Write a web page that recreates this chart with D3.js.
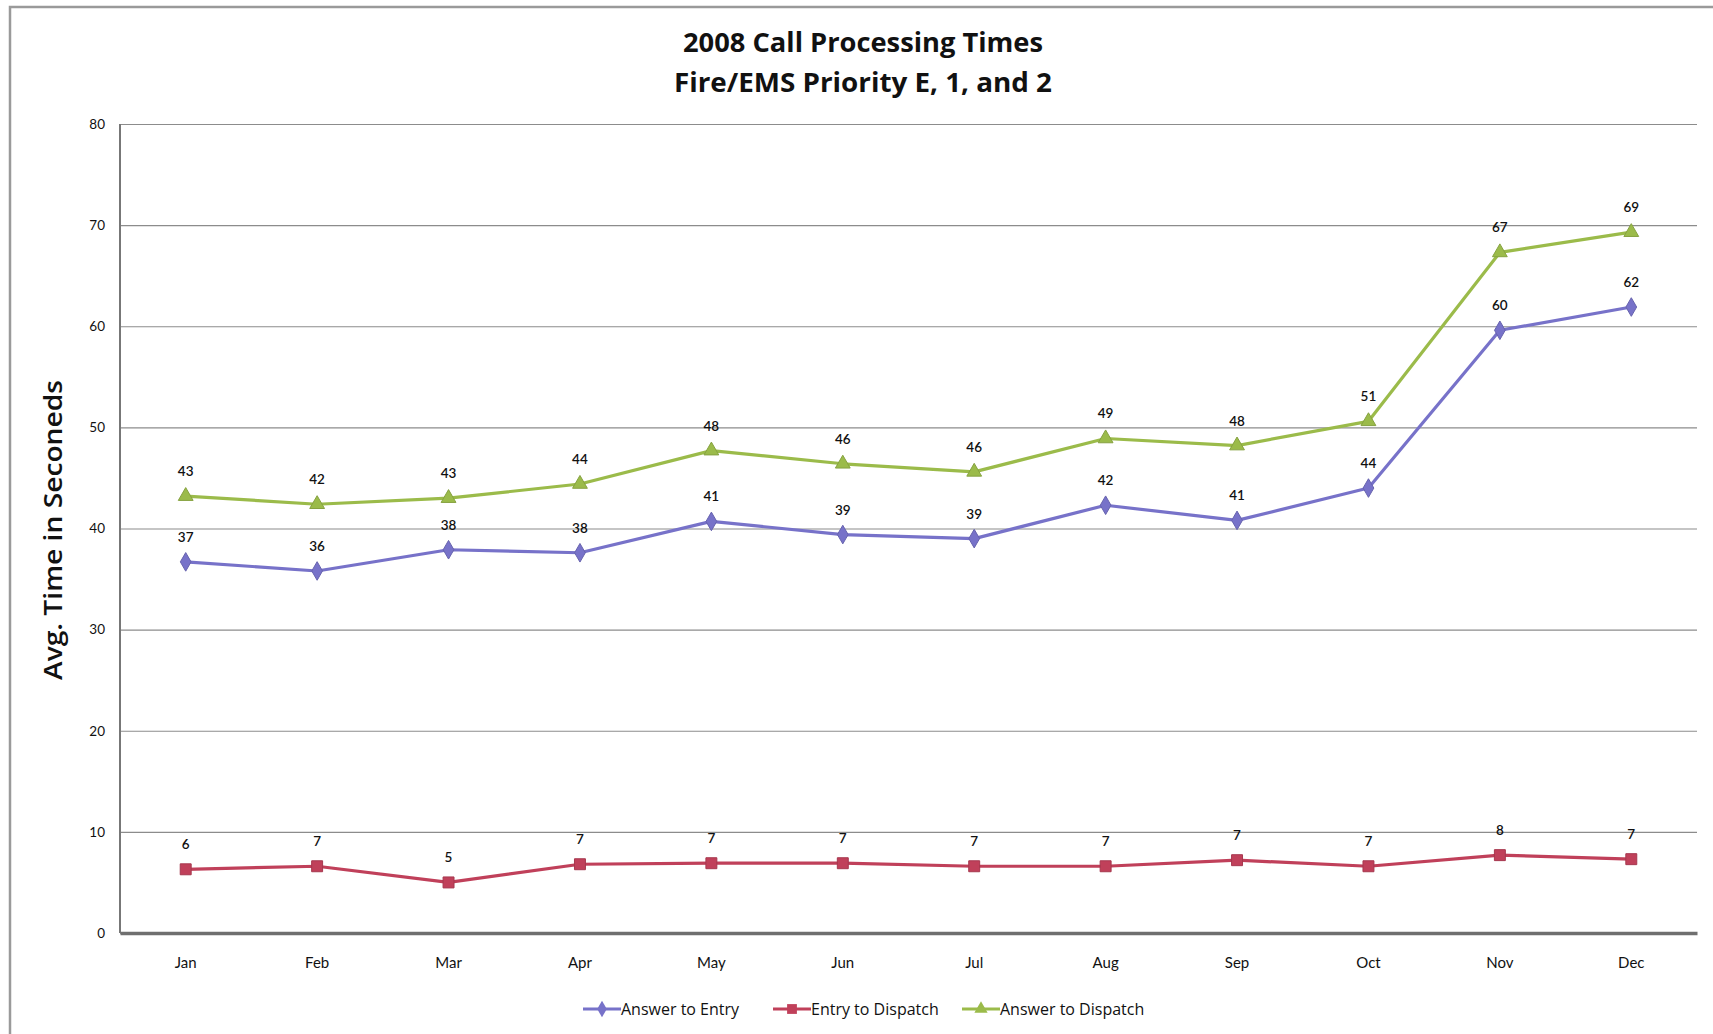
<!DOCTYPE html>
<html>
<head>
<meta charset="utf-8">
<script src="https://cdn.jsdelivr.net/npm/d3@7"></script>
<style>
  html, body { margin: 0; padding: 0; background: #ffffff; }
  svg { display: block; }
  text { font-family: Lato, "Open Sans", sans-serif; fill: #111; }
</style>
</head>
<body>
<svg id="chart" width="1713" height="1034"></svg>
<script>
// Months on the category axis
const months = ["Jan", "Feb", "Mar", "Apr", "May", "Jun", "Jul", "Aug", "Sep", "Oct", "Nov", "Dec"];

// Average times in seconds for each stage of call processing
const answerToEntry    = [36.7, 35.8, 37.9, 37.6, 40.7, 39.4, 39.0, 42.3, 40.8, 44.0, 59.6, 61.9];
const entryToDispatch  = [6.3, 6.6, 5.0, 6.8, 6.9, 6.9, 6.6, 6.6, 7.2, 6.6, 7.7, 7.3];
const answerToDispatch = [43.2, 42.4, 43.0, 44.4, 47.7, 46.4, 45.6, 48.9, 48.2, 50.6, 67.3, 69.3];

// Value axis ticks
const yTicks = [0, 10, 20, 30, 40, 50, 60, 70, 80];

const seriesNames  = ["Answer to Entry", "Entry to Dispatch", "Answer to Dispatch"];
const seriesValues = [answerToEntry, entryToDispatch, answerToDispatch];
const seriesColors = ["#7772c9", "#c0405a", "#9bbb4a"];
const seriesShapes = [d3.symbolDiamond, d3.symbolSquare, d3.symbolTriangle];
const seriesMarkerSize = [100, 120, 95];

const svg = d3.select("#chart");
const plot = { left: 120, right: 1697, top: 124, bottom: 933 };

// Outer chart frame
svg.append("rect")
  .attr("x", 10).attr("y", 7)
  .attr("width", 1720).attr("height", 1040)
  .attr("fill", "#fff")
  .attr("stroke", "#9a9a9a").attr("stroke-width", 2.5);

const x = d3.scaleBand().domain(months).range([plot.left, plot.right]);
const y = d3.scaleLinear().domain([0, 80]).range([plot.bottom, plot.top]);
const cx = m => x(m) + x.bandwidth() / 2;

// Horizontal gridlines
const yAxis = d3.axisLeft(y).tickValues(yTicks).tickSize(-(plot.right - plot.left)).tickPadding(15);
const gy = svg.append("g").attr("transform", `translate(${plot.left},0)`).call(yAxis);
gy.select(".domain").remove();
gy.selectAll(".tick line").attr("stroke", "#8c8c8c").attr("stroke-width", 1.2);
gy.selectAll(".tick text")
  .attr("font-size", 13.5).attr("fill", "#222")
  .style("font-family", "Lato, sans-serif");

// Vertical value axis line
svg.append("line")
  .attr("x1", plot.left).attr("x2", plot.left)
  .attr("y1", plot.top).attr("y2", plot.bottom)
  .attr("stroke", "#777").attr("stroke-width", 2);

// Category axis
const xAxis = d3.axisBottom(x).tickSize(0).tickPadding(24);
const gx = svg.append("g").attr("transform", `translate(0,${plot.bottom})`).call(xAxis);
gx.select(".domain").attr("stroke", "#6f6f6f").attr("stroke-width", 3.5);
gx.selectAll(".tick text")
  .attr("font-size", 15).attr("fill", "#222")
  .style("font-family", "Lato, sans-serif");

// Series lines, markers and value labels
const line = d3.line().x((d, i) => cx(months[i])).y(d => y(d));

seriesValues.forEach((vals, s) => {
  const g = svg.append("g");
  g.append("path")
    .datum(vals)
    .attr("d", line)
    .attr("fill", "none")
    .attr("stroke", seriesColors[s])
    .attr("stroke-width", 3.2)
    .attr("stroke-linejoin", "round");

  g.selectAll("path.marker")
    .data(vals)
    .join("path")
    .attr("class", "marker")
    .attr("d", d3.symbol().type(seriesShapes[s]).size(seriesMarkerSize[s]))
    .attr("transform", (d, i) => `translate(${cx(months[i])},${y(d)})`)
    .attr("fill", seriesColors[s])
    .attr("stroke", d3.color(seriesColors[s]).darker(0.4))
    .attr("stroke-width", 1);

  g.selectAll("text.lbl")
    .data(vals)
    .join("text")
    .attr("class", "lbl")
    .attr("x", (d, i) => cx(months[i]))
    .attr("y", d => y(d) - 20)
    .attr("text-anchor", "middle")
    .attr("font-size", 13.5)
    .attr("font-weight", 600)
    .text(d => d3.format(".0f")(d));
});

// Title
const title = svg.append("text")
  .attr("x", 863).attr("text-anchor", "middle")
  .style("font-family", "'Open Sans', sans-serif")
  .attr("font-size", 26).attr("font-weight", 700);
title.append("tspan").attr("x", 863).attr("y", 52)
  .attr("textLength", 360).attr("lengthAdjust", "spacingAndGlyphs")
  .text("2008 Call Processing Times");
title.append("tspan").attr("x", 863).attr("y", 92)
  .attr("textLength", 378).attr("lengthAdjust", "spacingAndGlyphs")
  .text("Fire/EMS Priority E, 1, and 2");

// Value axis title
svg.append("text")
  .attr("transform", "translate(62,530) rotate(-90)")
  .attr("text-anchor", "middle")
  .style("font-family", "'Open Sans', sans-serif")
  .attr("font-size", 25.5).attr("font-weight", 600)
  .attr("textLength", 300).attr("lengthAdjust", "spacingAndGlyphs")
  .text("Avg. Time in Seconeds");

// Legend
const legendX = [583, 773, 962];
const legend = svg.append("g").attr("transform", "translate(0,1009)");
seriesNames.forEach((name, s) => {
  const lg = legend.append("g").attr("transform", `translate(${legendX[s]},0)`);
  lg.append("line")
    .attr("x1", 0).attr("x2", 38).attr("y1", 0).attr("y2", 0)
    .attr("stroke", seriesColors[s]).attr("stroke-width", 3);
  lg.append("path")
    .attr("d", d3.symbol().type(seriesShapes[s]).size(seriesMarkerSize[s] * 0.8))
    .attr("transform", "translate(19,0)")
    .attr("fill", seriesColors[s]);
  lg.append("text")
    .attr("x", 38).attr("y", 5.5)
    .style("font-family", "'Open Sans', sans-serif")
    .attr("font-size", 16)
    .text(name);
});
</script>
</body>
</html>
